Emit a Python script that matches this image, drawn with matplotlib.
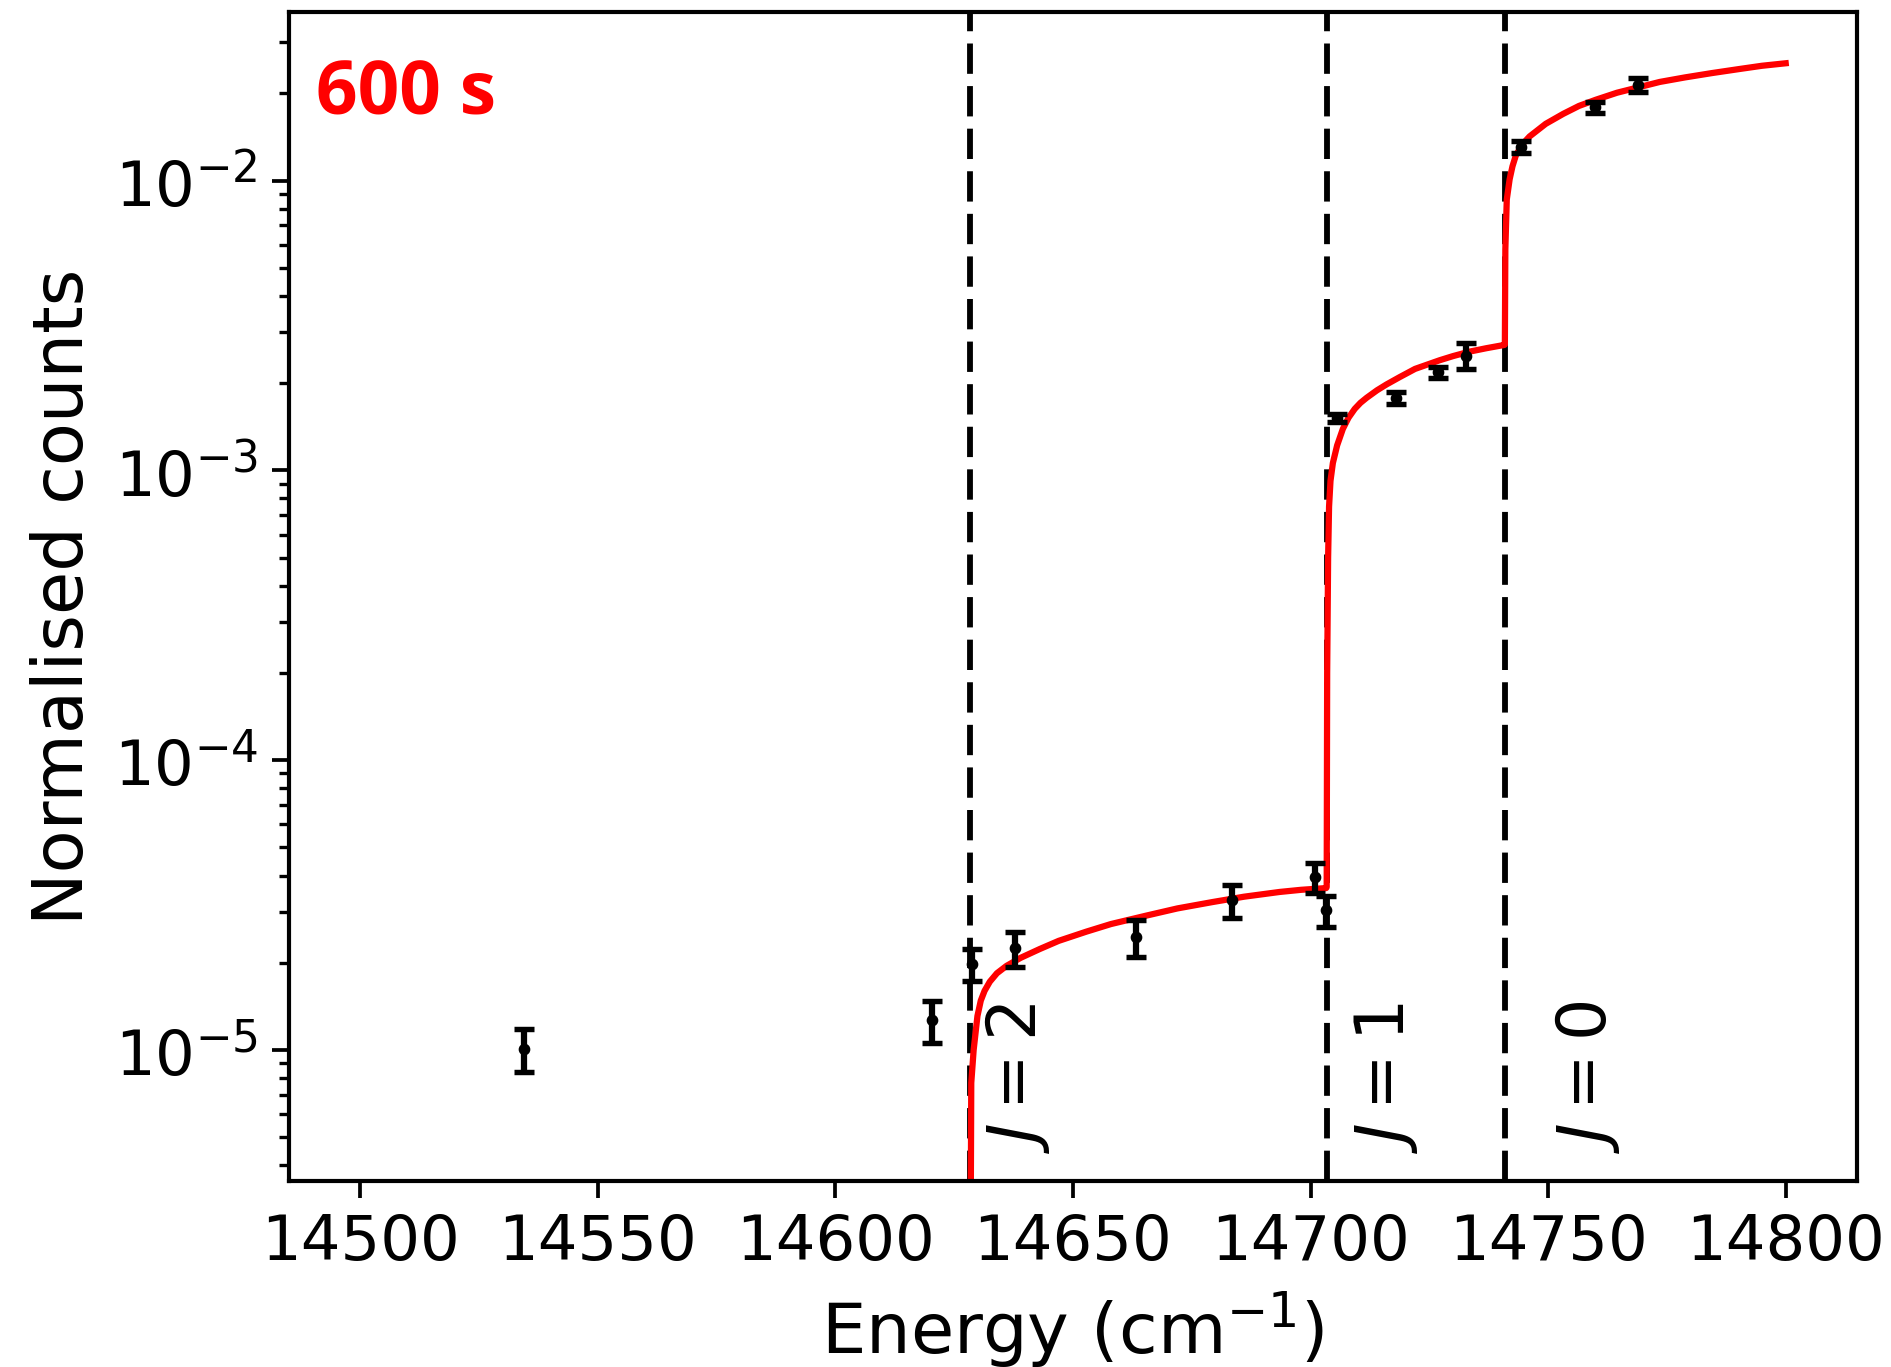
import matplotlib
matplotlib.use("Agg")
import matplotlib.pyplot as plt

# measured points (energy in cm^-1, normalised counts, error)
energy = [14534.4, 14620.3, 14628.8, 14637.9, 14663.2, 14683.5, 14700.9, 14703.2,
          14705.6, 14717.9, 14726.8, 14732.8, 14744.2, 14759.8, 14769.0]
counts = [1.01e-5, 1.27e-5, 1.98e-5, 2.25e-5, 2.45e-5, 3.28e-5, 3.95e-5, 3.03e-5,
          1.52e-3, 1.78e-3, 2.18e-3, 2.49e-3, 1.31e-2, 1.79e-2, 2.14e-2]
errors = [0.17e-5, 0.21e-5, 0.25e-5, 0.31e-5, 0.35e-5, 0.42e-5, 0.47e-5, 0.37e-5,
          0.05e-3, 0.085e-3, 0.10e-3, 0.26e-3, 0.06e-2, 0.075e-2, 0.12e-2]

# fitted curve
fit_energy = [14628.45, 14628.6, 14629.1, 14629.9, 14630.6, 14631.4, 14632.5, 14634.0,
              14636.0, 14639.0, 14643.0, 14647.0, 14652.8, 14658.0, 14665.5, 14672.0,
              14679.4, 14686.0, 14693.5, 14698.0, 14703.3,
              14703.4, 14703.5, 14703.7, 14703.9, 14704.2, 14704.7, 14705.6, 14706.8,
              14708.0, 14709.3, 14710.5, 14711.8, 14714.0, 14716.0, 14718.8, 14722.0,
              14727.2, 14730.0, 14733.5, 14737.0, 14740.8,
              14740.9, 14740.95, 14741.0, 14741.3, 14741.9, 14742.5, 14743.2, 14744.5,
              14746.1, 14749.5, 14753.2, 14756.5, 14760.0, 14764.5, 14769.1, 14773.5,
              14778.8, 14784.5, 14790.5, 14795.0, 14800.0]
fit_counts = [2.0e-6, 7.7e-6, 1.0e-5, 1.31e-5, 1.48e-5, 1.60e-5, 1.72e-5, 1.84e-5,
              1.95e-5, 2.08e-5, 2.23e-5, 2.38e-5, 2.56e-5, 2.72e-5, 2.91e-5, 3.08e-5,
              3.24e-5, 3.38e-5, 3.51e-5, 3.57e-5, 3.62e-5,
              3.65e-5, 2.0e-4, 5.0e-4, 7.5e-4, 9.2e-4, 1.06e-3, 1.22e-3, 1.39e-3,
              1.52e-3, 1.63e-3, 1.71e-3, 1.78e-3, 1.89e-3, 1.98e-3, 2.10e-3, 2.24e-3,
              2.40e-3, 2.48e-3, 2.57e-3, 2.64e-3, 2.71e-3,
              2.72e-3, 4.0e-3, 5.8e-3, 8.6e-3, 1.01e-2, 1.12e-2, 1.22e-2, 1.33e-2,
              1.42e-2, 1.57e-2, 1.70e-2, 1.81e-2, 1.90e-2, 2.01e-2, 2.10e-2, 2.19e-2,
              2.27e-2, 2.35e-2, 2.43e-2, 2.49e-2, 2.54e-2]

# thresholds and their labels
thresholds = [14628.3, 14703.4, 14740.9]
threshold_labels = ["$J = 2$", "$J = 1$", "$J = 0$"]
label_x = [14631.0, 14708.8, 14751.1]

fig = plt.figure(figsize=(1891 / 300, 1368 / 300), dpi=300)
ax = fig.add_axes([0.1528, 0.1362, 0.8292, 0.8546])

for e in thresholds:
    ax.axvline(e, color="black", lw=1.4, linestyle=(0, (5.2, 2.1)), zorder=1)

ax.plot(fit_energy, fit_counts, color="red", lw=1.5, zorder=2)
ax.errorbar(energy, counts, yerr=errors, fmt="o", color="black", ms=1.8,
            elinewidth=1.5, capsize=2.3, capthick=1.3, zorder=3)

for x, lab in zip(label_x, threshold_labels):
    ax.text(x, 4.45e-6, lab, rotation=90, ha="left", va="bottom", fontsize=16)

ax.text(0.0172, 0.9127, "600 s", transform=ax.transAxes, color="red",
        fontsize=17.5, fontweight="bold", family="Open Sans", va="baseline", ha="left")

ax.set_yscale("log")
ax.set_xlim(14485, 14815)
ax.set_ylim(3.54e-6, 0.0383)
ax.set_xticks([14500, 14550, 14600, 14650, 14700, 14750, 14800])
ax.set_xlabel("Energy (cm$^{-1}$)", fontsize=16.9)
ax.set_ylabel("Normalised counts", fontsize=16.9)
ax.tick_params(labelsize=15)
ax.tick_params(which="major", length=4, width=0.9)
ax.tick_params(which="minor", length=2.4, width=0.8)
for s in ax.spines.values():
    s.set_linewidth(1.0)

fig.savefig("out.png", dpi=300)
